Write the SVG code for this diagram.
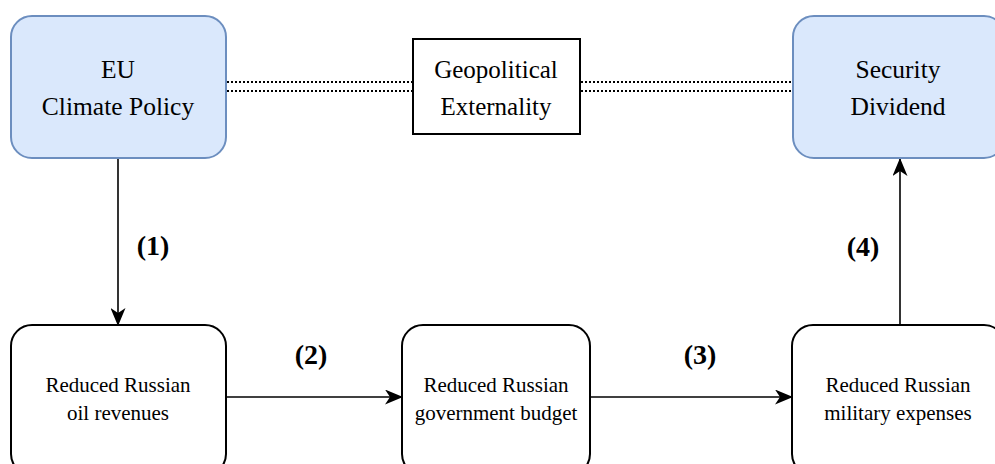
<svg xmlns="http://www.w3.org/2000/svg" width="995" height="464" viewBox="0 0 995 464">
<defs>
<marker id="ah" markerWidth="18" markerHeight="15" refX="17" refY="7.5" orient="auto" markerUnits="userSpaceOnUse" viewBox="0 0 18 15">
<path d="M0,0 L18,7.5 L0,15 L5,7.5 Z" fill="#000"/>
</marker>
<style>
.blue{fill:#dae8fc;stroke:#6c8ebf;stroke-width:2}
.plain{fill:#fff;stroke:#000;stroke-width:2}
.arr{stroke:#000;stroke-width:1.6;fill:none;marker-end:url(#ah)}
.dot{stroke:#000;stroke-width:2;stroke-dasharray:2 2;fill:none}
</style>
</defs>
<rect width="995" height="464" fill="#fff"/>
<g id="connectors">
<line class="dot" x1="227" y1="82" x2="413" y2="82"/>
<line class="dot" x1="227" y1="91" x2="413" y2="91"/>
<line class="dot" x1="581" y1="82" x2="793" y2="82"/>
<line class="dot" x1="581" y1="91" x2="793" y2="91"/>
<line class="arr" x1="118" y1="159" x2="118" y2="325"/>
<line class="arr" x1="227" y1="397" x2="402" y2="397"/>
<line class="arr" x1="591" y1="397" x2="792" y2="397"/>
<line class="arr" x1="900" y1="325" x2="900" y2="159"/>
<g font-family="Liberation Serif, serif" font-size="28" font-weight="bold" text-anchor="middle" fill="#000">
<text x="153" y="255">(1)</text>
<text x="311" y="364">(2)</text>
<text x="700" y="364">(3)</text>
<text x="863" y="256">(4)</text>
</g>
</g>
<g id="eu">
<rect class="blue" x="11" y="16" width="215" height="142" rx="21"/>
<g font-family="Liberation Serif, serif" font-size="25.5" text-anchor="middle" fill="#000">
<text x="118" y="78">EU</text>
<text x="118" y="115">Climate Policy</text>
</g>
</g>
<g id="geo">
<rect class="plain" x="413" y="39" width="167" height="95"/>
<g font-family="Liberation Serif, serif" font-size="25" text-anchor="middle" fill="#000">
<text x="496" y="78">Geopolitical</text>
<text x="496" y="115">Externality</text>
</g>
</g>
<g id="security">
<rect class="blue" x="793" y="16" width="212" height="142" rx="21"/>
<g font-family="Liberation Serif, serif" font-size="25.5" text-anchor="middle" fill="#000">
<text x="898" y="78">Security</text>
<text x="898" y="115">Dividend</text>
</g>
</g>
<g id="oil">
<rect class="plain" x="11" y="325" width="215" height="150" rx="21"/>
<g font-family="Liberation Serif, serif" font-size="21" text-anchor="middle" fill="#000">
<text x="118" y="392">Reduced Russian</text>
<text x="118" y="420">oil revenues</text>
</g>
</g>
<g id="budget">
<rect class="plain" x="402" y="325" width="188" height="150" rx="21"/>
<g font-family="Liberation Serif, serif" font-size="21" text-anchor="middle" fill="#000">
<text x="496" y="392">Reduced Russian</text>
<text x="496" y="420">government budget</text>
</g>
</g>
<g id="military">
<rect class="plain" x="792" y="325" width="213" height="150" rx="21"/>
<g font-family="Liberation Serif, serif" font-size="21" text-anchor="middle" fill="#000">
<text x="898" y="392">Reduced Russian</text>
<text x="898" y="420">military expenses</text>
</g>
</g>
</svg>
